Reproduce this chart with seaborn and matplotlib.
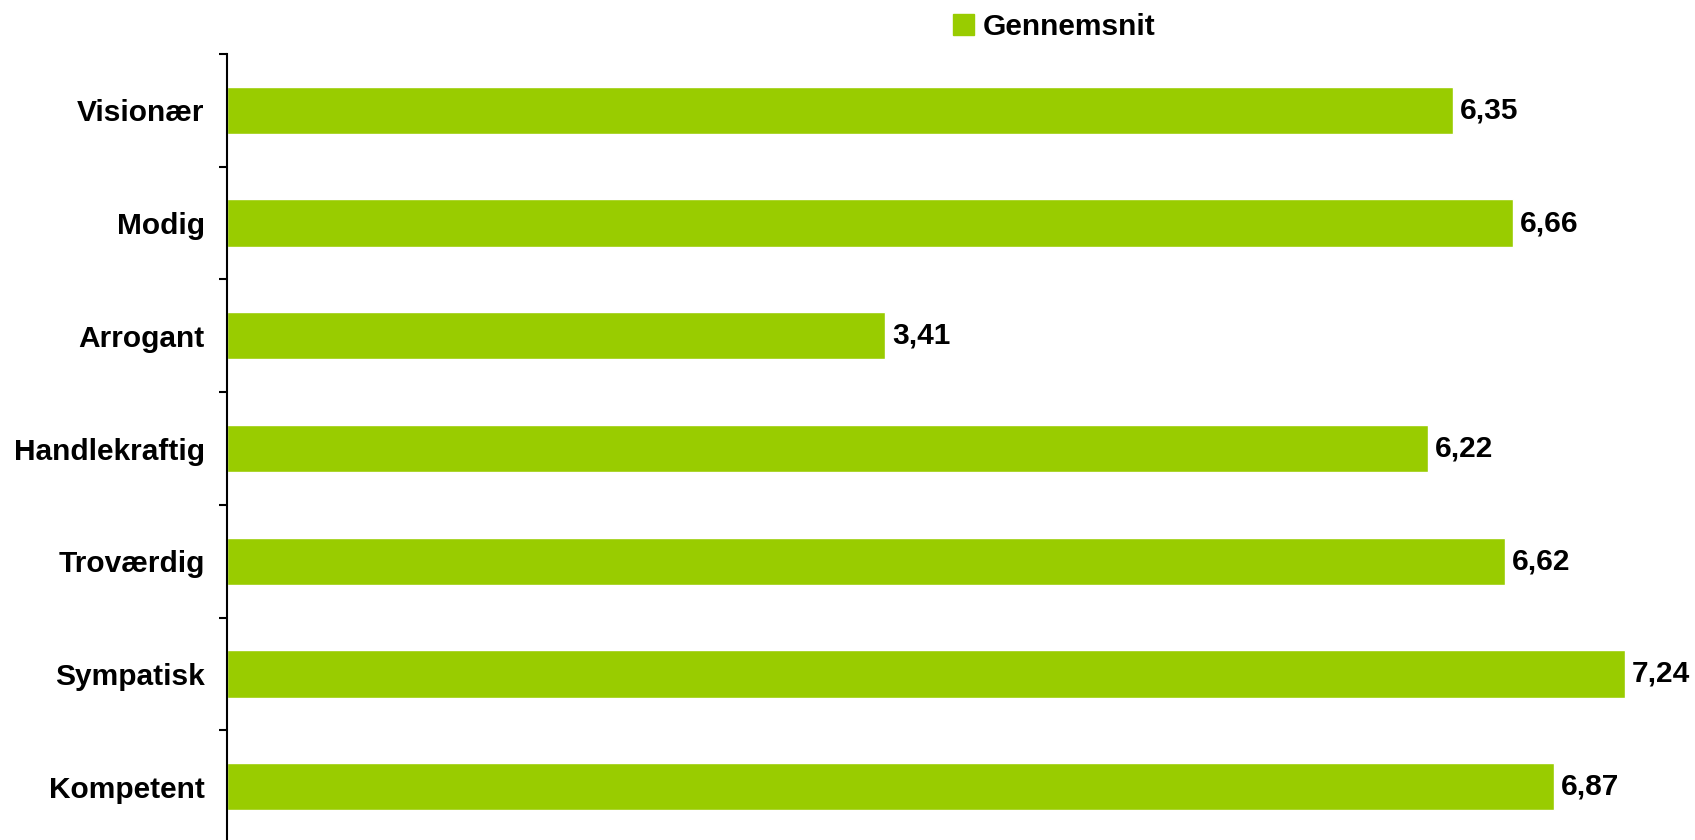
import matplotlib
matplotlib.use('Agg')
import matplotlib.pyplot as plt
import matplotlib.patches as mpatches
import seaborn as sns
import pandas as pd
import numpy as np

# data
categories = ['Visionær', 'Modig', 'Arrogant', 'Handlekraftig',
              'Troværdig', 'Sympatisk', 'Kompetent']
values = [6.35, 6.66, 3.41, 6.22, 6.62, 7.24, 6.87]
series_name = 'Gennemsnit'
bar_color = '#99CC00'

sns.set_style('white')
plt.rcParams['font.family'] = ['Liberation Sans', 'DejaVu Sans']
plt.rcParams['font.weight'] = 'bold'
plt.rcParams['text.color'] = 'black'
plt.rcParams['ytick.color'] = 'black'
plt.rcParams['ytick.labelcolor'] = 'black'

df = pd.DataFrame({'label': categories, 'value': values})

fig = plt.figure(figsize=(16.95, 8.4), dpi=100)
ax = fig.add_axes([227 / 1695, -3 / 840, 1468 / 1695, 789 / 840])

sns.barplot(data=df, y='label', x='value', orient='h', color=bar_color,
            saturation=1, width=0.42, ax=ax)

ax.set_xlim(0, 1468 / 193.1)
ax.set_ylim(len(categories) - 0.5, -0.5)
ax.set_xlabel('')
ax.set_ylabel('')
ax.set_xticks([])

# labels at centres, tick marks at the category boundaries
ax.tick_params(axis='y', which='major', left=False, length=0, pad=16,
               labelsize=21.5, labelcolor='black')
ax.set_yticks(np.arange(-0.5, len(categories), 1.0), minor=True)
ax.tick_params(axis='y', which='minor', left=True, length=6, width=1.5,
               color='black')
for lab in ax.get_yticklabels():
    lab.set_fontweight('bold')

for side in ['top', 'right', 'bottom']:
    ax.spines[side].set_visible(False)
ax.spines['left'].set_color('black')
ax.spines['left'].set_linewidth(1.5)

labels = [('%.2f' % v).replace('.', ',') for v in values]
ax.bar_label(ax.containers[0], labels=labels, padding=5,
             fontsize=21.5, fontweight='bold', color='black')

handle = mpatches.Patch(color=bar_color, label=series_name)
fig.legend(handles=[handle], loc='center left',
           bbox_to_anchor=(953 / 1695, 1 - 27 / 840), frameon=False,
           borderpad=0, borderaxespad=0, handlelength=0.7, handleheight=0.7,
           handletextpad=0.3, prop={'size': 21.5, 'weight': 'bold'})

fig.savefig('out.png', dpi=100)
